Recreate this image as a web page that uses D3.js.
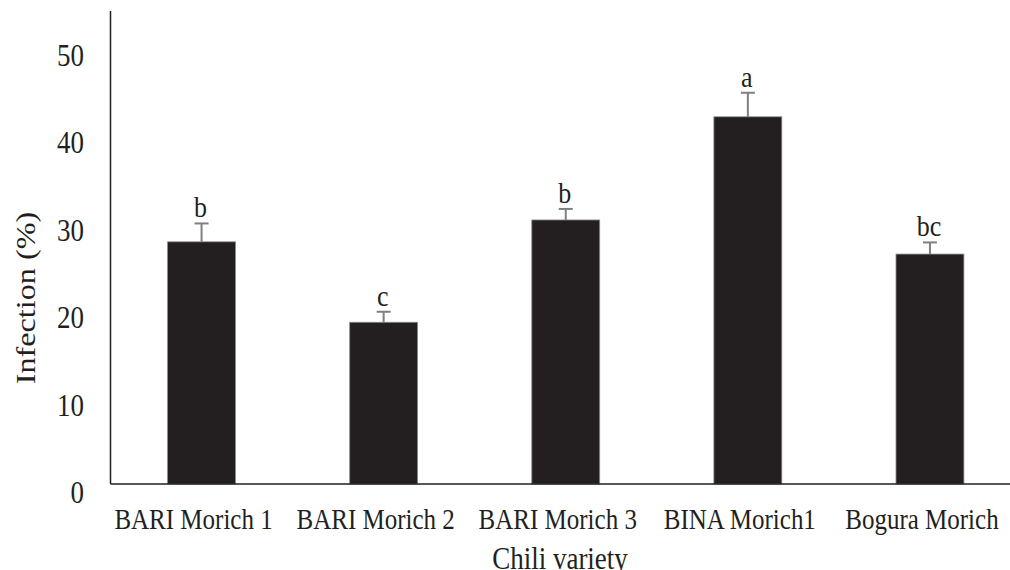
<!DOCTYPE html>
<html>
<head>
<meta charset="utf-8">
<script src="https://cdn.jsdelivr.net/npm/d3@7"></script>
<style>
  body { margin: 0; background: #fff; }
  text { font-family: "Liberation Serif", "Times New Roman", serif; fill: #231f20; }
</style>
</head>
<body>
<script>
// data
let varieties = ['BARI Morich 1', 'BARI Morich 2', 'BARI Morich 3', 'BINA Morich1', 'Bogura Morich'];
let infection = [27.7, 18.5, 30.2, 42.0, 26.3];
let errors = [2.1, 1.2, 1.26, 2.75, 1.33];
let letters = ['b', 'c', 'b', 'a', 'bc'];
let yTicks = [0, 10, 20, 30, 40, 50];
let yMax = 54.1;

let width = 1010;
let height = 570;
let stretch = 1.15; // the source text is a bit taller than it is wide

let svg = d3.select('body').append('svg').attr('width', width).attr('height', height);

let x = d3.scaleBand()
  .domain(varieties)
  .range([110.5, 110.5 + 5 * 182.1])
  .paddingInner(0.627)
  .paddingOuter(0.3135);

let y = d3.scaleLinear().domain([0, yMax]).range([484, 11]);

let dark = '#231f20';

function at(px, py) {
  return `translate(${px},${py}) scale(1,${stretch})`;
}

// bars
svg.append('g').selectAll('rect')
  .data(varieties)
  .enter()
    .append('rect')
    .attr('x', d => x(d))
    .attr('y', (d, i) => y(infection[i]))
    .attr('width', x.bandwidth())
    .attr('height', (d, i) => y(0) - y(infection[i]))
    .attr('fill', dark)
    .attr('stroke', '#8c8c8c')
    .attr('stroke-width', 0.8);

// error bars
let eb = svg.append('g').attr('stroke', '#7f7f7f').attr('stroke-width', 2);
varieties.forEach((d, i) => {
  let cx = x(d) + x.bandwidth() / 2;
  eb.append('line')
    .attr('x1', cx).attr('x2', cx)
    .attr('y1', y(infection[i])).attr('y2', y(infection[i] + errors[i]));
  eb.append('line')
    .attr('x1', cx - 7).attr('x2', cx + 7)
    .attr('y1', y(infection[i] + errors[i])).attr('y2', y(infection[i] + errors[i]));
});

// significance letters
svg.append('g').selectAll('text')
  .data(varieties)
  .enter()
    .append('text')
    .attr('transform', (d, i) => at(x(d) + x.bandwidth() / 2 - 1, y(infection[i] + errors[i]) - 6))
    .attr('text-anchor', 'middle')
    .attr('font-size', 26)
    .text((d, i) => letters[i]);

// axes lines
svg.append('line')
  .attr('x1', 110.5).attr('x2', 110.5).attr('y1', y(yMax)).attr('y2', y(0))
  .attr('stroke', dark).attr('stroke-width', 1.5);
svg.append('line')
  .attr('x1', 110.5).attr('x2', 1010).attr('y1', y(0)).attr('y2', y(0))
  .attr('stroke', dark).attr('stroke-width', 1.5);

// y tick labels
svg.append('g').selectAll('text')
  .data(yTicks)
  .enter()
    .append('text')
    .attr('transform', d => at(84, y(d) + 19))
    .attr('text-anchor', 'end')
    .attr('font-size', 27)
    .text(d => d);

// category labels
svg.append('g').selectAll('text')
  .data(varieties)
  .enter()
    .append('text')
    .attr('transform', d => at(x(d) + x.bandwidth() / 2 - 8, 529))
    .attr('text-anchor', 'middle')
    .attr('font-size', 25)
    .text(d => d);

// axis titles
svg.append('text')
  .attr('transform', at(560, 569))
  .attr('text-anchor', 'middle')
  .attr('font-size', 27)
  .text('Chili variety');

svg.append('text')
  .attr('transform', `translate(35,298) scale(1,${stretch}) rotate(-90)`)
  .attr('text-anchor', 'middle')
  .attr('font-size', 28)
  .text('Infection (%)');
</script>
</body>
</html>
